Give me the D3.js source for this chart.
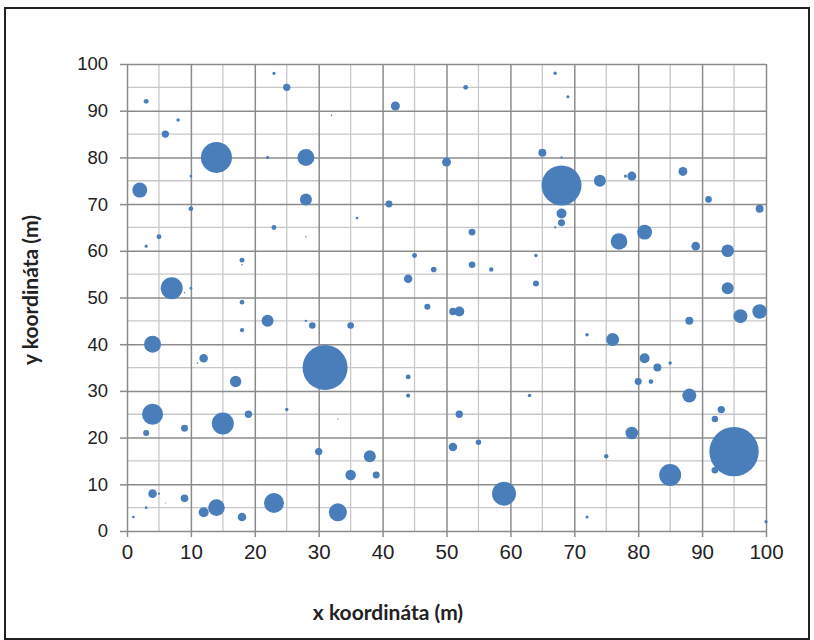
<!DOCTYPE html>
<html>
<head>
<meta charset="utf-8">
<script src="https://cdn.jsdelivr.net/npm/d3@7"></script>
<style>
  body { margin: 0; background: #fff; }
  svg { display: block; font-family: Lato, "Open Sans", sans-serif; }
</style>
</head>
<body>
<div id="chart"></div>
<script>
// --- Data ---
const xValues = [3, 8, 6, 14, 2, 10, 10, 23, 25, 22, 28, 28, 32, 42, 53, 67, 50, 65, 41, 36,
  69, 68, 68, 74, 79, 78, 87, 91, 99, 68, 5, 3, 23, 28, 18, 18, 7, 9, 10, 18,
  22, 18, 28, 29, 4, 12, 11, 17, 4, 3, 9, 15, 19, 25, 30, 33, 4, 5, 3, 6,
  1, 9, 12, 14, 18, 23, 33, 44, 44, 52, 63, 38, 35, 39, 51, 55, 59, 54, 68, 67,
  45, 48, 54, 57, 64, 44, 64, 47, 51, 52, 35, 31, 77, 81, 89, 94, 94, 96, 99, 88,
  72, 76, 81, 83, 85, 80, 82, 88, 93, 92, 79, 75, 95, 92, 85, 72, 100];
const yValues = [92, 88, 85, 80, 73, 76, 69, 98, 95, 80, 80, 71, 89, 91, 95, 98, 79, 81, 70, 67,
  93, 80, 74, 75, 76, 76, 77, 71, 69, 68, 63, 61, 65, 63, 58, 57, 52, 51, 52, 49,
  45, 43, 45, 44, 40, 37, 36, 32, 25, 21, 22, 23, 25, 26, 17, 24, 8, 8, 5, 6,
  3, 7, 4, 5, 3, 6, 4, 33, 29, 25, 29, 16, 12, 12, 18, 19, 8, 64, 66, 65,
  59, 56, 57, 56, 59, 54, 53, 48, 47, 47, 44, 35, 62, 64, 61, 60, 52, 46, 47, 45,
  42, 41, 37, 35, 36, 32, 32, 29, 26, 24, 21, 16, 17, 13, 12, 3, 2];
const sizeValues = [1.0, 0.5, 2.2, 39.4, 9.2, 0.3, 0.9, 0.4, 2.2, 0.4, 11.8, 5.9, 0.1, 3.3, 1.0, 0.5, 3.3, 2.6, 2.0, 0.3,
  0.4, 0.2, 65.6, 5.9, 3.3, 0.4, 3.3, 1.8, 2.6, 4.1, 1.0, 0.4, 1.0, 0.1, 1.0, 0.1, 19.8, 0.1, 0.3, 0.9,
  5.9, 0.7, 0.24, 1.8, 11.8, 3.0, 0.1, 5.3, 18.1, 1.5, 2.0, 19.8, 2.2, 0.5, 2.2, 0.06, 3.0, 0.2, 0.3, 0.05,
  0.3, 2.4, 4.1, 11.3, 3.0, 16.4, 13.3, 1.0, 0.7, 2.2, 0.5, 5.9, 4.6, 2.0, 3.0, 1.2, 23.6, 2.0, 2.0, 0.2,
  1.0, 1.3, 1.8, 0.8, 0.5, 3.0, 1.5, 1.5, 2.2, 4.1, 1.8, 83, 11.3, 9.2, 3.0, 6.5, 5.9, 8.0, 8.7, 2.6,
  0.5, 6.9, 4.1, 2.6, 0.5, 2.0, 0.9, 8.0, 2.2, 1.7, 6.5, 0.8, 100, 1.8, 19.8, 0.4, 0.4];
const xTicks = [0, 10, 20, 30, 40, 50, 60, 70, 80, 90, 100];
const yTicks = [0, 10, 20, 30, 40, 50, 60, 70, 80, 90, 100];
const gridSteps = d3.range(0, 101, 5);

const W = 814, H = 640;
const margin = { left: 127, top: 64, right: 48, bottom: 109 };
const pw = W - margin.left - margin.right;
const ph = H - margin.top - margin.bottom;

const svg = d3.select('#chart').append('svg').attr('width', W).attr('height', H);

// chart border
svg.append('rect').attr('x', 5).attr('y', 8).attr('width', 804).attr('height', 631)
  .attr('fill', '#fff').attr('stroke', '#222').attr('stroke-width', 2);

const x = d3.scaleLinear().domain([0, 100]).range([0, pw]);
const y = d3.scaleLinear().domain([0, 100]).range([ph, 0]);
const r = d3.scaleSqrt().domain([0, 100]).range([0, 24.7]);

const g = svg.append('g').attr('transform', `translate(${margin.left},${margin.top})`);

// minor gridlines (every 5)
g.selectAll('line.vminor').data(gridSteps.filter(d => d % 10)).join('line')
  .attr('x1', d => x(d)).attr('x2', d => x(d)).attr('y1', 0).attr('y2', ph)
  .attr('stroke', '#c8c8c8').attr('stroke-width', 1.3);
g.selectAll('line.hminor').data(gridSteps.filter(d => d % 10)).join('line')
  .attr('y1', d => y(d)).attr('y2', d => y(d)).attr('x1', 0).attr('x2', pw)
  .attr('stroke', '#c8c8c8').attr('stroke-width', 1.3);

// major gridlines (every 10), via axes with full-length ticks
const xAxis = g.append('g').attr('transform', `translate(0,${ph})`)
  .call(d3.axisBottom(x).tickValues(xTicks).tickSize(-ph).tickPadding(13));
const yAxis = g.append('g')
  .call(d3.axisLeft(y).tickValues(yTicks).tickSize(-pw).tickPadding(19));
[xAxis, yAxis].forEach(a => {
  a.select('.domain').remove();
  a.selectAll('.tick line').attr('stroke', '#8c8c8c').attr('stroke-width', 1.5);
  a.selectAll('.tick text').attr('fill', '#222');
});
xAxis.selectAll('.tick text').attr('font-size', 20.5);
yAxis.selectAll('.tick text').attr('font-size', 18.5);
// outside tick marks
xAxis.selectAll('.tick').append('line').attr('y1', 0).attr('y2', 6)
  .attr('stroke', '#8c8c8c').attr('stroke-width', 1.5);
yAxis.selectAll('.tick').append('line').attr('x1', 0).attr('x2', -7)
  .attr('stroke', '#8c8c8c').attr('stroke-width', 1.5);

// bubbles
const bubbles = d3.range(xValues.length).map(i => ({ x: xValues[i], y: yValues[i], s: sizeValues[i] }))
  .sort((a, b) => b.s - a.s);
g.selectAll('circle.bubble').data(bubbles).join('circle')
  .attr('class', 'bubble')
  .attr('cx', d => x(d.x)).attr('cy', d => y(d.y))
  .attr('r', d => Math.max(0.5, r(d.s)))
  .attr('fill', '#4a7ebb');

// axis titles
svg.append('text').attr('x', 388).attr('y', 620).attr('text-anchor', 'middle')
  .attr('font-size', 21).attr('font-weight', 'bold').attr('fill', '#222')
  .text('x koordináta (m)');
svg.append('text').attr('transform', 'translate(38,290) rotate(-90)').attr('text-anchor', 'middle')
  .attr('font-size', 21).attr('font-weight', 'bold').attr('fill', '#222')
  .text('y koordináta (m)');
</script>
</body>
</html>
